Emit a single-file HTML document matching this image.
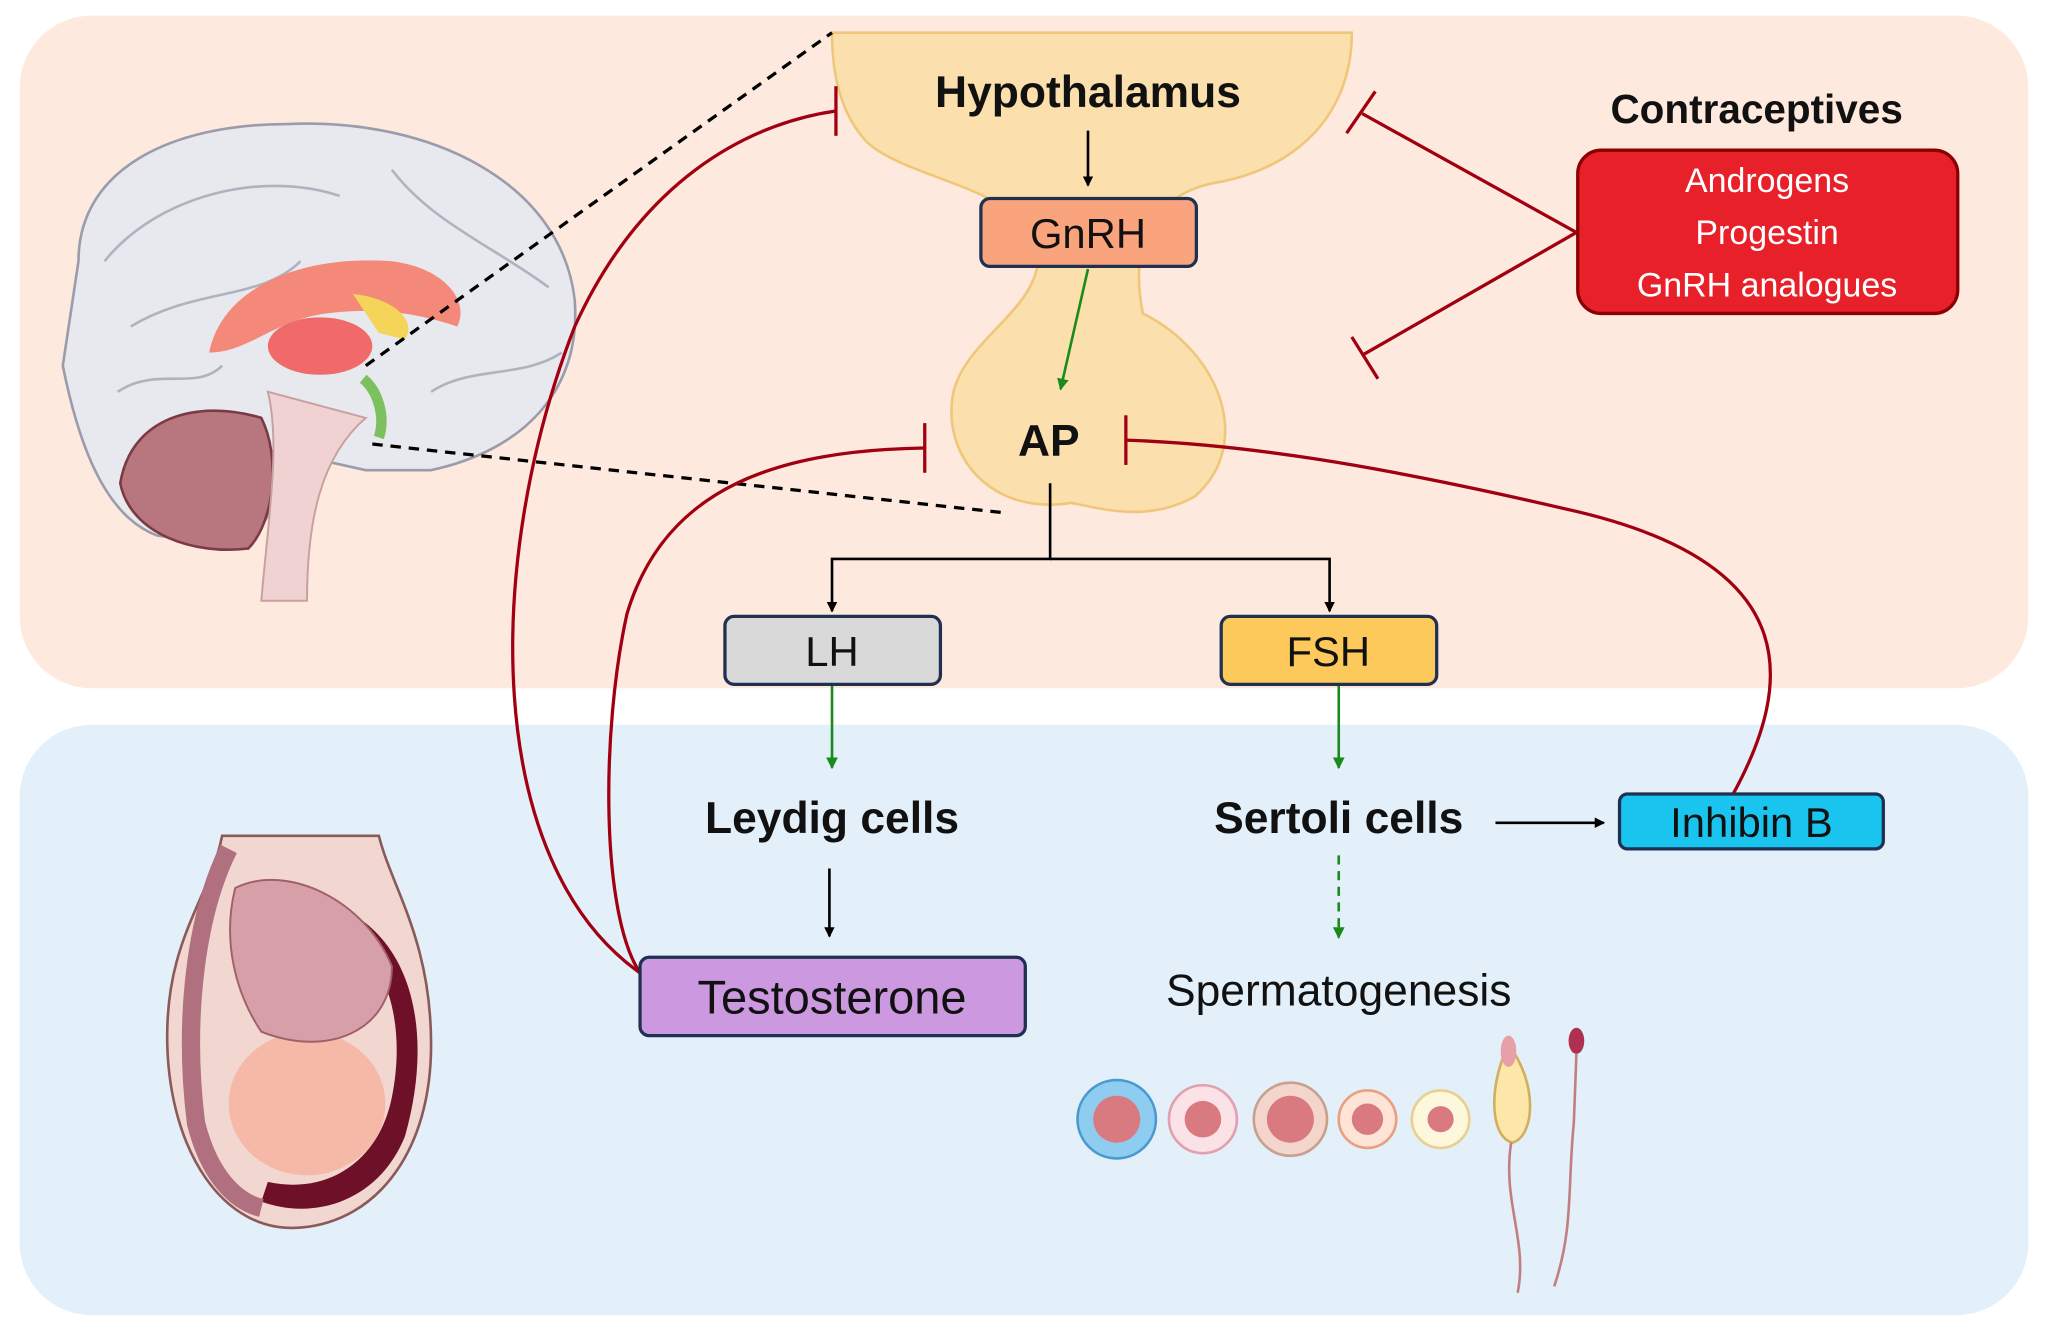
<!DOCTYPE html>
<html><head><meta charset="utf-8"><style>html,body{margin:0;padding:0;background:#fff}svg{display:block}</style></head><body>
<svg width="2048" height="1336" viewBox="0 0 1568 1023" xmlns="http://www.w3.org/2000/svg" font-family="Liberation Sans, DejaVu Sans, sans-serif">
<defs>
<marker id="ab" markerWidth="8" markerHeight="8" refX="7" refY="4" orient="auto" markerUnits="userSpaceOnUse"><path d="M0,0 L8,4 L0,8z" fill="#000"/></marker>
<marker id="ag" markerWidth="9" markerHeight="9" refX="8" refY="4.5" orient="auto" markerUnits="userSpaceOnUse"><path d="M0,0 L9,4.5 L0,9z" fill="#1a8a1a"/></marker>
</defs>
<rect x="15" y="12" width="1538" height="515" rx="55" fill="#fde9de"/>
<rect x="15" y="555" width="1538" height="452" rx="55" fill="#e3f0f9"/>
<!-- hypothalamus / pituitary -->
<path d="M637,25 L1035,25 C1035,90 990,130 930,140 C880,150 865,190 875,240 C935,270 960,340 915,380 C880,400 845,390 820,385 C760,395 720,350 730,300 C740,260 790,240 795,200 C795,145 700,140 665,110 C645,90 637,60 637,25Z" fill="#fbe0ae" stroke="#f0c77a" stroke-width="2"/>
<!-- brain illustration -->
<g>
<path d="M60,200 C60,130 130,95 220,95 C330,90 430,140 440,230 C445,300 400,345 330,360 L280,360 L235,350 L205,395 L190,420 L120,410 C80,395 60,340 48,280 Z" fill="#e8e9ee" stroke="#9a9cab" stroke-width="2"/>
<path d="M80,200 C120,150 200,130 260,150 M100,250 C150,220 200,230 230,200 M300,130 C330,170 380,190 420,220 M330,300 C360,280 400,290 430,270 M90,300 C120,280 150,300 170,280" stroke="#b0b2c0" stroke-width="2" fill="none"/>
<path d="M160,270 C170,220 230,195 300,200 C340,205 360,230 350,250 C320,240 290,235 250,240 C210,245 190,270 160,270Z" fill="#f4897a"/>
<ellipse cx="245" cy="265" rx="40" ry="22" fill="#f06a6a"/>
<path d="M270,225 C300,228 320,245 310,260 L290,255 Z" fill="#f5d45a"/>
<path d="M92,370 C100,320 150,305 200,320 C215,350 210,400 190,420 C150,425 100,410 92,370Z" fill="#b8777e" stroke="#7a3b45" stroke-width="2"/>
<path d="M205,300 C215,340 205,400 200,460 L235,460 C235,400 245,350 280,320 Z" fill="#f0d2d2" stroke="#c9a0a0" stroke-width="1.5"/>
<path d="M278,290 C290,300 295,320 290,335" stroke="#7cc060" stroke-width="8" fill="none"/>
</g>
<line x1="280" y1="280" x2="637" y2="25" stroke="#000" stroke-width="2.5" stroke-dasharray="8,6"/>
<line x1="285" y1="340" x2="772" y2="393" stroke="#000" stroke-width="2.5" stroke-dasharray="8,6"/>
<!-- testis illustration -->
<g>
<path d="M170,640 L290,640 C300,680 330,720 330,800 C330,880 290,935 230,940 C170,945 130,880 128,800 C126,720 160,690 170,640Z" fill="#f2d6d0" stroke="#8a5a5a" stroke-width="2"/>
<path d="M270,700 C320,730 330,800 310,870 C290,920 240,935 200,920 L205,905 C250,915 290,890 300,840 C310,790 300,740 265,715Z" fill="#6e1128"/>
<path d="M175,650 C150,700 140,780 150,860 C160,900 180,920 200,925" stroke="#b07080" stroke-width="14" fill="none"/>
<ellipse cx="235" cy="845" rx="60" ry="55" fill="#f6b9a8"/>
<path d="M180,680 C220,660 280,690 300,740 C300,790 250,810 200,790 C180,760 170,720 180,680Z" fill="#d7a0a8" stroke="#a0606c" stroke-width="1.5"/>
</g>
<!-- sperm cells -->
<g stroke-width="2">
<circle cx="855" cy="857" r="30" fill="#8fcdf0" stroke="#4a9ad0"/><circle cx="855" cy="857" r="18" fill="#d87a80"/>
<circle cx="921" cy="857" r="26" fill="#fbe2e6" stroke="#e0a0b0"/><circle cx="921" cy="857" r="14" fill="#d87a80"/>
<circle cx="988" cy="857" r="28" fill="#f4d5cc" stroke="#c8a090"/><circle cx="988" cy="857" r="18" fill="#d87a80"/>
<circle cx="1047" cy="857" r="22" fill="#fde4d6" stroke="#e8a080"/><circle cx="1047" cy="857" r="12" fill="#d87a80"/>
<circle cx="1103" cy="857" r="22" fill="#fdf7dc" stroke="#e8d090"/><circle cx="1103" cy="857" r="10" fill="#d87a80"/>
<path d="M1155,800 C1140,830 1140,870 1158,875 C1175,870 1178,830 1155,800Z" fill="#fce6a8" stroke="#d0b060"/>
<ellipse cx="1155" cy="805" rx="6" ry="12" fill="#e8a0a8"/>
<path d="M1157,875 C1150,920 1170,950 1162,990" stroke="#c08080" fill="none"/>
<ellipse cx="1207" cy="797" rx="6" ry="10" fill="#b03050"/>
<path d="M1207,807 L1205,860 C1200,910 1205,940 1190,985" stroke="#c08080" fill="none"/>
</g>
<!-- black/green arrows -->
<line x1="833" y1="100" x2="833" y2="142" stroke="#000" stroke-width="2" marker-end="url(#ab)"/>
<line x1="833" y1="206" x2="812" y2="298" stroke="#1a8a1a" stroke-width="2" marker-end="url(#ag)"/>
<polyline points="804,370 804,428 637,428 637,468" fill="none" stroke="#000" stroke-width="2" marker-end="url(#ab)"/>
<polyline points="804,428 1018,428 1018,468" fill="none" stroke="#000" stroke-width="2" marker-end="url(#ab)"/>
<line x1="637" y1="525" x2="637" y2="588" stroke="#1a8a1a" stroke-width="2" marker-end="url(#ag)"/>
<line x1="1025" y1="525" x2="1025" y2="588" stroke="#1a8a1a" stroke-width="2" marker-end="url(#ag)"/>
<line x1="635" y1="665" x2="635" y2="717" stroke="#000" stroke-width="2" marker-end="url(#ab)"/>
<line x1="1025" y1="655" x2="1025" y2="718" stroke="#1a8a1a" stroke-width="2" stroke-dasharray="7,5" marker-end="url(#ag)"/>
<line x1="1145" y1="630" x2="1228" y2="630" stroke="#000" stroke-width="2" marker-end="url(#ab)"/>
<!-- inhibition lines -->
<g stroke="#a00010" stroke-width="2.5" fill="none">
<path d="M490,745 C370,660 370,430 440,250 C490,140 570,95 640,85"/><line x1="640" y1="66" x2="640" y2="104"/>
<path d="M490,745 C460,700 460,560 480,470 C510,370 600,345 708,343"/><line x1="708" y1="324" x2="708" y2="362"/>
<path d="M1327,608 C1375,520 1380,430 1200,390 C1050,355 950,340 862,337"/><line x1="862" y1="318" x2="862" y2="356"/>
<path d="M1207,178 L1043,87"/><line x1="1031" y1="102" x2="1053" y2="70"/>
<path d="M1207,178 L1043,272"/><line x1="1035" y1="258" x2="1055" y2="290"/>
</g>
<!-- boxes -->
<rect x="751" y="152" width="165" height="52" rx="7" fill="#f9a47c" stroke="#1f3050" stroke-width="2.5"/>
<text x="833" y="190" font-size="32" text-anchor="middle" fill="#111">GnRH</text>
<rect x="555" y="472" width="165" height="52" rx="7" fill="#d9d9d9" stroke="#1f3050" stroke-width="2.5"/>
<text x="637" y="510" font-size="32" text-anchor="middle" fill="#111">LH</text>
<rect x="935" y="472" width="165" height="52" rx="7" fill="#fdc95a" stroke="#1f3050" stroke-width="2.5"/>
<text x="1017" y="510" font-size="32" text-anchor="middle" fill="#111">FSH</text>
<rect x="1240" y="608" width="202" height="42" rx="6" fill="#19c4ef" stroke="#1f3050" stroke-width="2.5"/>
<text x="1341" y="641" font-size="32" text-anchor="middle" fill="#111">Inhibin B</text>
<rect x="490" y="733" width="295" height="60" rx="7" fill="#cc99e0" stroke="#1f3050" stroke-width="2.5"/>
<text x="637" y="776" font-size="36" text-anchor="middle" fill="#111">Testosterone</text>
<rect x="1208" y="115" width="291" height="125" rx="18" fill="#e8202a" stroke="#8b0000" stroke-width="2.5"/>
<text x="1353" y="147" font-size="26" text-anchor="middle" fill="#fff">Androgens</text>
<text x="1353" y="187" font-size="26" text-anchor="middle" fill="#fff">Progestin</text>
<text x="1353" y="227" font-size="26" text-anchor="middle" fill="#fff">GnRH analogues</text>
<!-- labels -->
<text x="833" y="82" font-size="34" font-weight="bold" text-anchor="middle" fill="#111">Hypothalamus</text>
<text x="1345" y="94" font-size="31" font-weight="bold" text-anchor="middle" fill="#111">Contraceptives</text>
<text x="803" y="349" font-size="34" font-weight="bold" text-anchor="middle" fill="#111">AP</text>
<text x="637" y="638" font-size="34" font-weight="bold" text-anchor="middle" fill="#111">Leydig cells</text>
<text x="1025" y="638" font-size="34" font-weight="bold" text-anchor="middle" fill="#111">Sertoli cells</text>
<text x="1025" y="770" font-size="34" text-anchor="middle" fill="#111">Spermatogenesis</text>
</svg>
</body></html>
